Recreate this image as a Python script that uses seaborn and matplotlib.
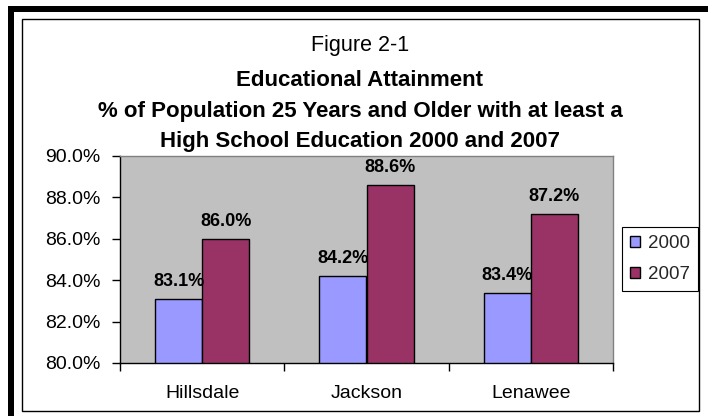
import matplotlib
matplotlib.use("Agg")
import matplotlib.pyplot as plt
import matplotlib.patches as mpatches
from matplotlib.ticker import FuncFormatter, FixedLocator
import seaborn as sns
import pandas as pd

counties = ["Hillsdale", "Jackson", "Lenawee"]
years = ["2000", "2007"]
pct_2000 = [83.1, 84.2, 83.4]
pct_2007 = [86.0, 88.6, 87.2]
year_colors = ["#9999FF", "#993366"]

df = pd.DataFrame({
    "County": counties * 2,
    "Year": [years[0]] * 3 + [years[1]] * 3,
    "Pct": pct_2000 + pct_2007,
})

sns.set_theme(style="white")
plt.rcParams["font.family"] = ["Liberation Sans", "DejaVu Sans"]

W, H = 708, 416
fig = plt.figure(figsize=(W / 100, H / 100), dpi=100)
fig.patch.set_facecolor("white")

# axes placed in pixel terms
left, right, top, bottom = 120, 613, 156, 363
ax = fig.add_axes([left / W, 1 - bottom / H, (right - left) / W, (bottom - top) / H])
ax.set_facecolor("#C0C0C0")

sns.barplot(data=df, x="County", y="Pct", hue="Year", palette=year_colors,
            order=counties, hue_order=years, width=0.574, gap=0,
            edgecolor="black", linewidth=1.0, saturation=1, ax=ax, legend=True)

ax.set_ylim(80, 90)
ax.set_xlim(-0.5, 2.5)
ax.set_yticks([80, 82, 84, 86, 88, 90])
ax.yaxis.set_major_formatter(FuncFormatter(lambda v, p: f"{v:.1f}%"))
ax.tick_params(axis="y", which="major", direction="out", length=6, width=1,
               color="black", pad=8, labelsize=14, labelcolor="black", left=True)
ax.tick_params(axis="x", which="major", length=0, pad=16, labelsize=14,
               labelcolor="black", bottom=True)
ax.xaxis.set_minor_locator(FixedLocator([-0.5, 0.5, 1.5, 2.5]))
ax.tick_params(axis="x", which="minor", direction="out", length=6, width=1,
               color="black", bottom=True)
ax.set_xlabel("")
ax.set_ylabel("")

for side in ["left", "bottom"]:
    ax.spines[side].set_color("black")
    ax.spines[side].set_linewidth(1.0)
for side in ["top", "right"]:
    ax.spines[side].set_color("#808080")
    ax.spines[side].set_linewidth(1.0)

# value labels above each bar
for container in ax.containers:
    ax.bar_label(container, labels=[f"{b.get_height():.1f}%" for b in container],
                 padding=6.5, fontsize=13, fontweight="bold", color="black")

# legend at right
handles = [mpatches.Patch(facecolor=c, edgecolor="black", linewidth=1.0) for c in year_colors]
ax.legend(handles, years, loc="upper left",
          bbox_to_anchor=(622 / W, 1 - 227 / H), bbox_transform=fig.transFigure,
          frameon=True, fancybox=False, edgecolor="black", framealpha=1,
          fontsize=13.5, handlelength=0.55, handleheight=0.55, handletextpad=0.4,
          borderpad=0.42, labelspacing=0.75, borderaxespad=0)
ax.get_legend().get_frame().set_linewidth(0.8)

# title lines
fig.text(360 / W, 1 - 51 / H, "Figure 2-1", ha="center", va="baseline", fontsize=15.5, color="black")
fig.text(360 / W, 1 - 86 / H, "Educational Attainment", ha="center", va="baseline",
         fontsize=16, fontweight="bold", color="black")
fig.text(360 / W, 1 - 117 / H, "% of Population 25 Years and Older with at least a",
         ha="center", va="baseline", fontsize=16, fontweight="bold", color="black")
fig.text(360 / W, 1 - 147 / H, "High School Education 2000 and 2007", ha="center",
         va="baseline", fontsize=16, fontweight="bold", color="black")

# frame: thin chart border and heavy outer border
fig.patches.append(mpatches.Rectangle((21.5 / W, 1 - 411 / H), (699 - 21.5) / W, (411 - 19) / H,
                                      transform=fig.transFigure, fill=False,
                                      edgecolor="black", linewidth=1.0))
fig.patches.append(mpatches.Rectangle((8 / W, 0), 6 / W, 1 - 6 / H,
                                      transform=fig.transFigure, facecolor="black",
                                      edgecolor="none"))
fig.patches.append(mpatches.Rectangle((8 / W, 1 - 12 / H), 1 - 8 / W, 6 / H,
                                      transform=fig.transFigure, facecolor="black",
                                      edgecolor="none"))

fig.savefig("out.png", dpi=100)
